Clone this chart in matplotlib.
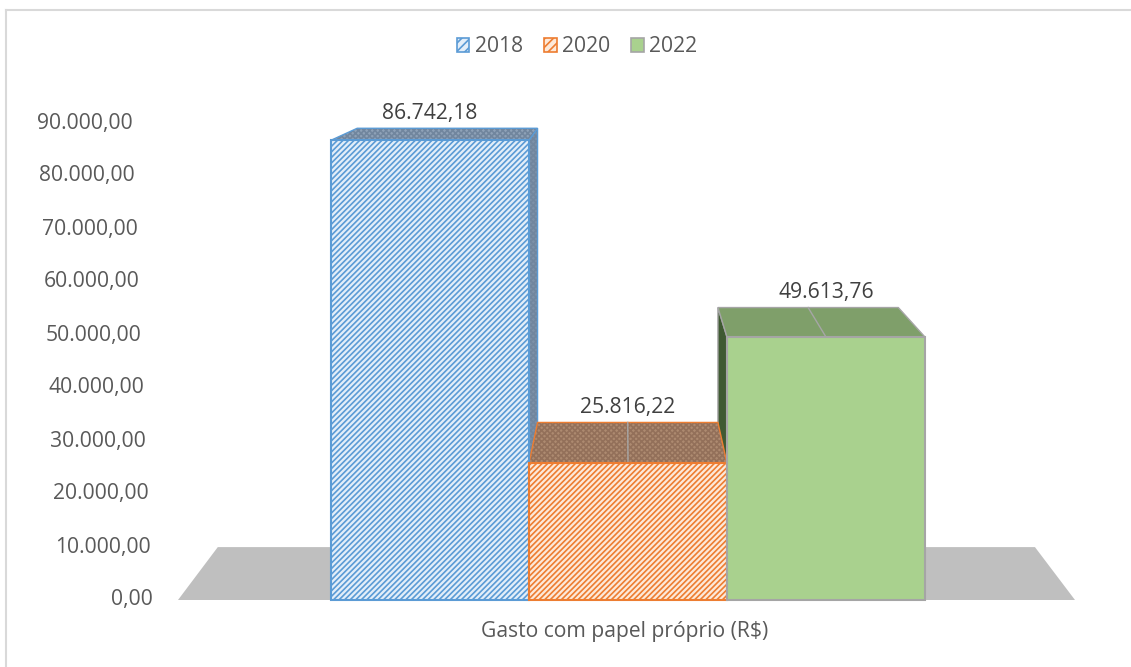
import matplotlib.pyplot as plt
from matplotlib.patches import Polygon, Patch
from matplotlib.lines import Line2D

plt.rcParams['font.family'] = ['Open Sans', 'DejaVu Sans']
plt.rcParams['hatch.linewidth'] = 1.2

# Data
years = ['2018', '2020', '2022']
values = [86742.18, 25816.22, 49613.76]
value_labels = ['86.742,18', '25.816,22', '49.613,76']
yticks = [0, 10000, 20000, 30000, 40000, 50000, 60000, 70000, 80000, 90000]
ytick_labels = ['0,00', '10.000,00', '20.000,00', '30.000,00', '40.000,00',
                '50.000,00', '60.000,00', '70.000,00', '80.000,00', '90.000,00']
category_label = 'Gasto com papel próprio (R$)'

# Styles
front_colors = ['#e3eef9', '#fde9d9', '#a9d18e']
top_colors = ['#8fa2b8', '#ad8a70', '#7f9f6a']
top_hatch_colors = ['#71869e', '#93705a', None]
side_colors = ['#7d91a8', '#9c7256', '#3f5a32']
edge_colors = ['#5b9bd5', '#ed7d31', '#a5a5a5']
hatches = ['//////', '//////', None]

# Layout: pixel geometry of the original picture
W, H = 1131, 667
PX_X = 198.0       # pixels per bar width
PX_Y = 0.0053      # pixels per R$
X_ORIGIN = 430.0   # pixel x of first bar centre
Y_ORIGIN = 600.0   # pixel y (from top) of zero line
FS = 15.2

# perspective: vanishing point and depth scale (data coords)
VP = (0.985, 112150.0)
S = 0.911


def back(x, y):
    return VP[0] + S * (x - VP[0]), VP[1] + S * (y - VP[1])


def face(ax, pts, fc, hc, ec, z):
    # fill + pattern, then outline
    if hc:
        ax.add_patch(Polygon(pts, closed=True, facecolor=fc, edgecolor=hc, lw=0,
                             hatch='xxxxxx', zorder=z))
    else:
        ax.add_patch(Polygon(pts, closed=True, facecolor=fc, edgecolor='none', zorder=z))
    ax.add_patch(Polygon(pts, closed=True, fill=False, edgecolor=ec, lw=1.0, zorder=z + 0.1))


fig = plt.figure(figsize=(W / 100, H / 100), dpi=100)
ax = fig.add_axes([0, 0, 1, 1])
ax.set_xlim(-X_ORIGIN / PX_X, (W - X_ORIGIN) / PX_X)
ax.set_ylim(-(H - Y_ORIGIN) / PX_Y, Y_ORIGIN / PX_Y)
ax.axis('off')

# floor
fl, fr = (178 - X_ORIGIN) / PX_X, (1075 - X_ORIGIN) / PX_X
floor = [(fl, 0), (fr, 0), back(fr, 0), back(fl, 0)]
ax.add_patch(Polygon(floor, closed=True, facecolor='#bfbfbf', edgecolor='none', zorder=1))

pos = list(range(len(values)))
w = 1.0

# side faces (visible side depends on position relative to vanishing point)
for i, v in enumerate(values):
    if abs(i - VP[0]) < 0.5:
        continue
    xs = i + w / 2 if i < VP[0] else i - w / 2
    pts = [(xs, 0), (xs, v), back(xs, v), back(xs, 0)]
    face(ax, pts, side_colors[i], top_hatch_colors[i], edge_colors[i], 2)

# top faces
for i, v in enumerate(values):
    l, r = i - w / 2, i + w / 2
    pts = [(l, v), (r, v), back(r, v), back(l, v)]
    face(ax, pts, top_colors[i], top_hatch_colors[i], edge_colors[i], 3)
    if i > 0:
        bx, by = back(i, v)
        ax.plot([i, bx], [v, by], color='#a6a6a6', lw=1.0, zorder=3.5)

# front faces
for i, v in enumerate(values):
    ax.bar(pos[i], v, width=w, color=front_colors[i], edgecolor=edge_colors[i],
           hatch=hatches[i], linewidth=1.5, zorder=4)

# value labels above back edge of tops
for i, v in enumerate(values):
    bx, by = back(i, v)
    ax.text(i, by + 15 / PX_Y, value_labels[i], ha='center', va='center',
            fontsize=FS, color='#404040', zorder=5)

# y tick labels (slanted like the original perspective axis)
for t, lab in zip(yticks, ytick_labels):
    px = 153 - 20 * t / 90000
    ax.text((px - X_ORIGIN) / PX_X, t, lab, ha='right', va='center',
            fontsize=FS, color='#595959')

ax.text(VP[0], -(632 - Y_ORIGIN) / PX_Y, category_label, ha='center', va='center',
        fontsize=FS, color='#595959')

handles = [Patch(facecolor=front_colors[i], edgecolor=edge_colors[i],
                 hatch=('////' if hatches[i] else None), lw=1.2) for i in range(3)]
fig.legend(handles, years, loc='center', bbox_to_anchor=(577 / W, 1 - 47 / H),
           ncol=3, frameon=False, fontsize=FS, labelcolor='#595959',
           handlelength=0.6, handleheight=0.6, handletextpad=0.25, columnspacing=1.0)

# chart border (left and top visible)
fig.add_artist(Line2D([5.5 / W, 5.5 / W], [0, 1 - 10 / H], transform=fig.transFigure,
                      color='#d9d9d9', lw=1.5))
fig.add_artist(Line2D([5.5 / W, 1], [1 - 10 / H, 1 - 10 / H], transform=fig.transFigure,
                      color='#d9d9d9', lw=1.5))

fig.savefig('out.png', dpi=100)
